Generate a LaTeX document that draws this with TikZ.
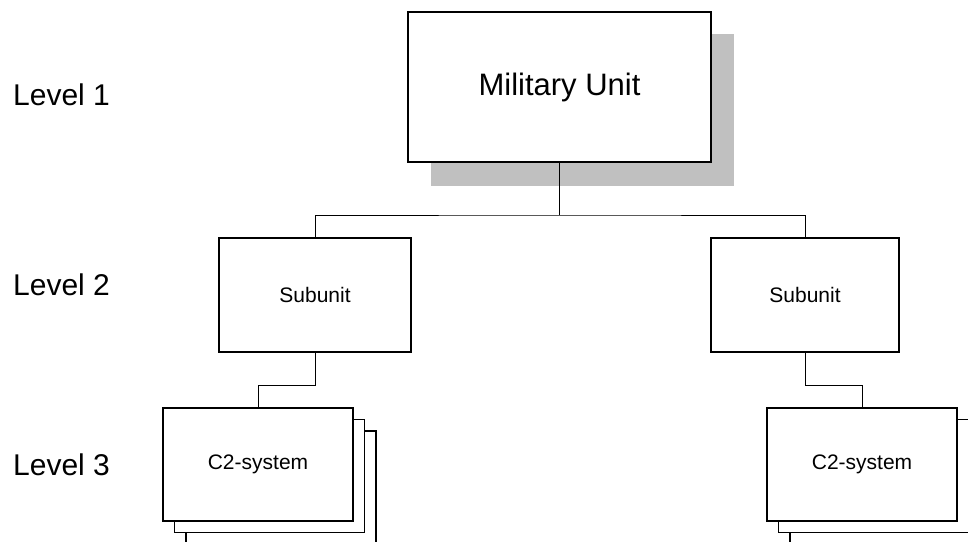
\documentclass[tikz,border=0pt]{standalone}
\usepackage{fontspec}
\setmainfont{Liberation Sans}
\definecolor{shadowgray}{HTML}{C0C0C0}
\tikzset{
  box/.style={draw=black, line width=1.6pt, fill=white, inner sep=0pt},
  conn/.style={draw=black, line width=0.9pt},
  lvl/.style={anchor=base west, inner sep=0pt, font=\fontsize{30}{36}\selectfont},
  small/.style={font=\fontsize{21}{25}\selectfont},
}
\begin{document}
\begin{tikzpicture}[x=1pt, y=-1pt]
\useasboundingbox (0,0) rectangle (968,541);
\clip (0,0) rectangle (968,541);

% level labels
\node[lvl] (l1) at (13,105) {Level 1};
\node[lvl] (l2) at (13,295) {Level 2};
\node[lvl] (l3) at (13,475) {Level 3};

% top unit with shadow
\node[fill=shadowgray, inner sep=0pt, minimum width=303pt, minimum height=152pt] (shadow) at (582.5,110) {};
\node[box, minimum width=303pt, minimum height=150pt, font=\fontsize{31}{37}\selectfont] (mu) at (559.5,87) {Military Unit};

% subunits
\node[box, small, minimum width=192pt, minimum height=114pt] (sub1) at (315,295) {Subunit};
\node[box, small, minimum width=188pt, minimum height=114pt] (sub2) at (805,295) {Subunit};

% left C2 stack
\node[box, minimum width=190pt, minimum height=113pt] (c2lc) at (281,487.5) {};
\node[box, minimum width=190pt, minimum height=113pt] (c2lb) at (269.5,476) {};
\node[box, small, minimum width=190pt, minimum height=113pt] (c2l) at (258,464.5) {C2-system};

% right C2 stack
\node[box, minimum width=190pt, minimum height=113pt] (c2rc) at (885,487.5) {};
\node[box, minimum width=190pt, minimum height=113pt] (c2rb) at (873.5,476) {};
\node[box, small, minimum width=190pt, minimum height=113pt] (c2r) at (862,464.5) {C2-system};

% connectors
\coordinate (j) at (559.5,215);
\coordinate (k1) at (315,385);
\coordinate (k2) at (805,385);
\draw[conn] (mu.south) -- (j);
\draw[conn] (sub1.north) |- (j) -| (sub2.north);
\draw[conn] (sub1.south) -- (k1) -| (c2l.north);
\draw[conn] (sub2.south) -- (k2) -| (c2r.north);
\end{tikzpicture}
\end{document}
